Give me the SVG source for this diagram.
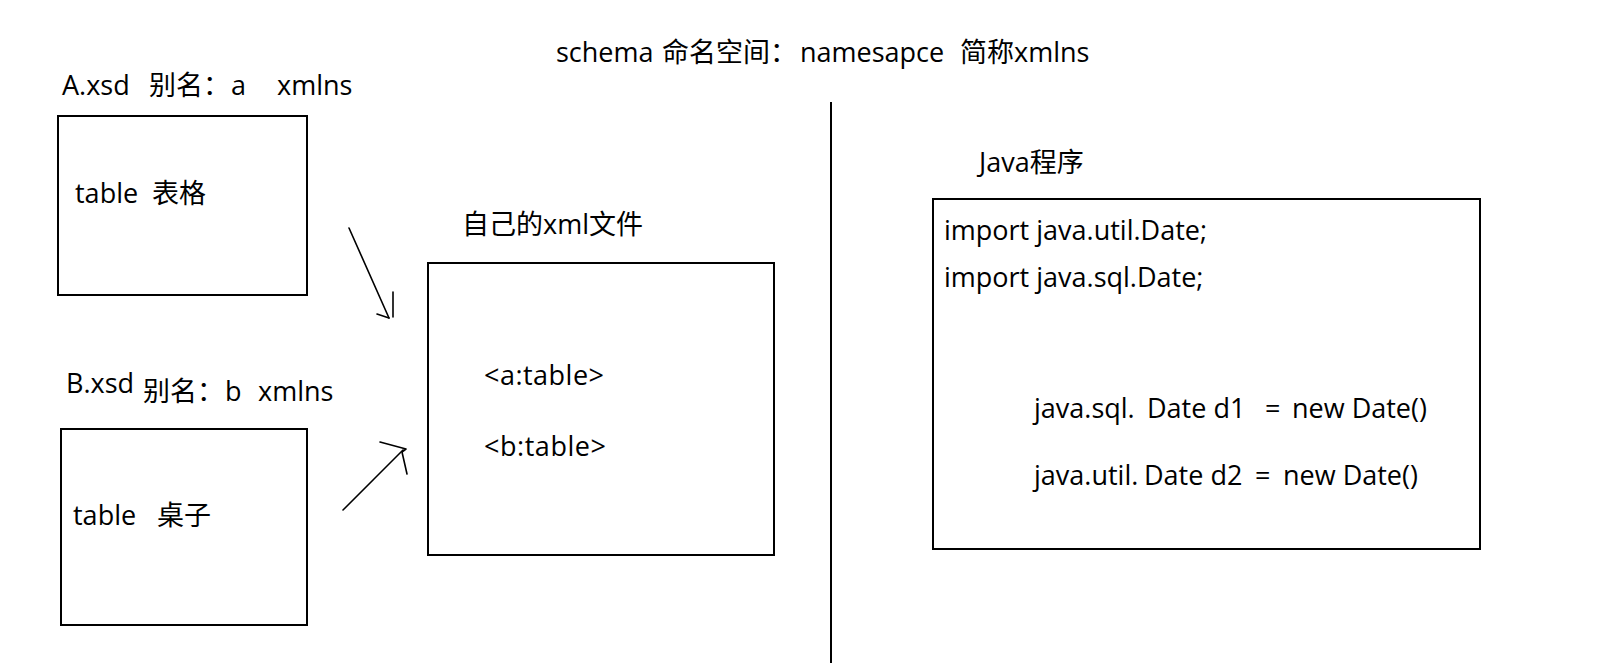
<svg xmlns="http://www.w3.org/2000/svg" width="1605" height="663" viewBox="0 0 1605 663">
<style>
  text { font-family: "Open Sans", "Noto Sans CJK SC", sans-serif; font-size: 27px; fill: #000; }
  .box { fill: #fff; stroke: #000; stroke-width: 2; }
  .conn { fill: none; stroke: #000; stroke-width: 1.6; stroke-linecap: round; stroke-linejoin: round; }
  .div { stroke: #000; stroke-width: 2; }
</style>
<rect width="1605" height="663" fill="#fff"/>

<g id="title">
  <text y="62"><tspan x="556">schema</tspan><tspan x="662">命名空间：</tspan><tspan x="800">namesapce</tspan><tspan x="960">简称xmlns</tspan></text>
</g>

<g id="divider">
  <line class="div" x1="831" y1="102" x2="831" y2="663"/>
</g>

<g id="node-a">
  <text y="95"><tspan x="62">A.xsd</tspan><tspan x="149">别名：</tspan><tspan x="231">a</tspan><tspan x="277">xmlns</tspan></text>
  <rect class="box" x="58" y="116" width="249" height="179"/>
  <text y="203"><tspan x="75">table</tspan><tspan x="152">表格</tspan></text>
</g>

<g id="node-b">
  <text x="66" y="393">B.xsd</text>
  <text y="401"><tspan x="143">别名：</tspan><tspan x="225">b</tspan><tspan x="258">xmlns</tspan></text>
  <rect class="box" x="61" y="429" width="246" height="196"/>
  <text y="525"><tspan x="73">table</tspan><tspan x="157">桌子</tspan></text>
</g>

<g id="node-xml">
  <text x="462" y="234">自己的xml文件</text>
  <rect class="box" x="428" y="263" width="346" height="292"/>
  <text x="484" y="385" textLength="120">&lt;a:table&gt;</text>
  <text x="484" y="456" textLength="122">&lt;b:table&gt;</text>
</g>

<g id="node-java">
  <text x="979" y="172">Java程序</text>
  <rect class="box" x="933" y="199" width="547" height="350"/>
  <text x="944" y="240">import java.util.Date;</text>
  <text x="944" y="287">import java.sql.Date;</text>
  <text y="418"><tspan x="1034">java.sql.</tspan><tspan x="1147">Date d1</tspan><tspan x="1265">=</tspan><tspan x="1292">new Date()</tspan></text>
  <text y="485"><tspan x="1034">java.util.</tspan><tspan x="1144">Date d2</tspan><tspan x="1255">=</tspan><tspan x="1283">new Date()</tspan></text>
</g>

<g id="connectors">
  <path class="conn" d="M349 228 L389 318"/>
  <path class="conn" d="M393 292 L393 317 M377 314 L389 318"/>
  <path class="conn" d="M343 510 L403 450"/>
  <path class="conn" d="M380 442 L406 449 L402 452 L407 474"/>
</g>
</svg>
